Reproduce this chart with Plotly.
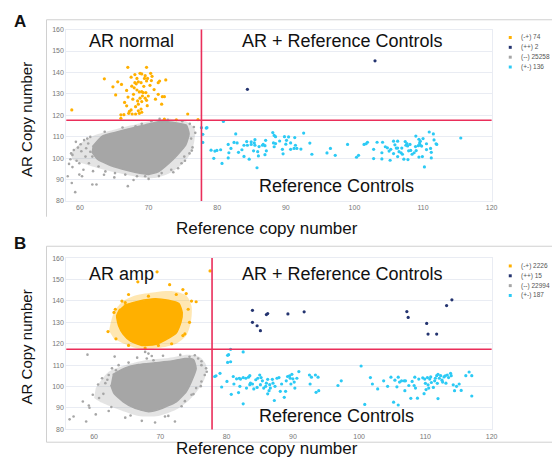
import plotly.graph_objects as go

W, H = 558, 459

# ---------------- data ----------------
x_ticks = [60, 70, 80, 90, 100, 110, 120]
y_ticks = [80, 90, 100, 110, 120, 130, 140, 150, 160]

A_x_cut, A_y_cut = 77.7, 117.7
B_x_cut, B_y_cut = 77.8, 117.4

legend_A = ["(-+) 74", "(++) 2", "(--) 25258", "(+-) 136"]
legend_B = ["(-+) 2226", "(++) 15", "(--) 22994", "(+-) 187"]

# Panel A : (--) dense cloud outline (core and sparse fringe) and outliers
A_gray_core_x = [61.8, 63.2, 65.1, 67.5, 69.5, 71.4, 72.8, 74.3, 75.5, 75.9, 75.4, 74.2, 72.9, 71.4, 70.0, 68.0, 66.1, 64.2, 62.5, 61.7]
A_gray_core_y = [105.3, 110.2, 112.0, 114.0, 115.5, 117.0, 117.0, 116.3, 115.4, 111.4, 106.0, 101.5, 97.4, 93.6, 92.4, 93.4, 94.9, 96.9, 99.6, 103.0]
A_gray_fringe_x = [58.65, 59.9, 61.8, 64.2, 67.5, 70.4, 73.3, 75.7, 76.7, 76.6, 75.96, 74.8, 73.1, 70.9, 68.5, 65.6, 62.7, 60.3, 58.9]
A_gray_fringe_y = [102.2, 106.5, 110.2, 112.6, 115.3, 117.5, 118.3, 116.8, 113.7, 106.8, 101.5, 96.9, 93.0, 90.7, 91.2, 93.0, 95.3, 97.6, 99.2]
A_gray_x = [58.2, 58.8, 59.3, 59.9, 60.3, 61.8, 62.4, 66.97, 58.4, 58.9, 59.1, 59.4, 60.1, 60.6, 61.06, 61.5, 68.1, 69.0, 70.4, 72.8, 76.0, 76.6, 76.2, 76.4, 75.96, 75.2, 74.8, 74.3, 73.3, 71.9, 70.0, 69.5, 68.3, 66.6, 65.1, 63.7, 62.7, 61.3, 59.9, 60.8, 61.5, 61.8, 58.7,
            58.6, 59.5, 60.2, 60.9, 59.7, 61.2, 58.9, 60.5, 61.9, 63.5, 65.0, 67.8, 71.5, 73.6, 75.3, 76.3, 76.8, 74.9, 71.6, 66.2, 63.6]
A_gray_y = [91.5, 88.4, 84.1, 92.3, 91.5, 87.7, 87.7, 86.9, 97.3, 101.5, 103.8, 107.6, 106.5, 108.4, 109.1, 109.9, 114.9, 116.0, 117.2, 117.9, 116.0, 114.5, 109.1, 105.0, 102.2, 100.7, 97.6, 95.3, 94.6, 93.0, 90.3, 91.5, 91.5, 92.3, 93.0, 93.8, 96.1, 97.6, 97.6, 100.7, 103.0, 100.7, 102.2,
            99.5, 98.8, 103.2, 104.6, 104.9, 106.8, 95.8, 94.6, 93.9, 92.2, 91.0, 89.8, 91.6, 93.4, 98.8, 103.5, 111.8, 117.2, 118.3, 114.3, 112.3]

A_orange_x = [69.7, 66.97, 68.75, 69.0, 70.3, 69.5, 70.5, 67.45, 63.55, 68.3, 69.4, 69.85, 69.7, 68.5, 68.0, 68.2, 65.5, 66.05, 68.9, 70.4, 71.6, 71.4, 64.8, 67.55, 66.8, 68.3, 69.0, 68.65, 69.2, 69.6, 65.2, 67.8, 69.95, 71.4, 72.0, 72.3, 69.1, 68.75, 69.5, 67.7, 68.4, 69.0, 69.7, 71.9, 66.8, 68.5, 68.1, 68.9, 67.45, 67.2, 68.5, 68.65, 58.8, 65.96, 66.4, 67.1, 67.6, 68.1, 65.96, 69.0, 75.7, 72.3, 74.04, 77.2, 69.3, 70.8, 67.9, 71.0, 66.5, 69.8, 67.0, 70.2, 68.0, 72.5]
A_orange_y = [142.4, 142.4, 139.6, 139.3, 139.6, 138.5, 138.2, 137.8, 137.0, 137.2, 137.2, 137.2, 136.0, 135.6, 135.2, 134.7, 135.6, 134.4, 135.2, 136.2, 136.0, 135.2, 133.3, 133.6, 131.6, 131.8, 131.0, 130.9, 130.6, 130.6, 129.5, 129.8, 129.0, 129.8, 128.7, 128.7, 129.0, 128.0, 128.0, 127.5, 126.7, 126.4, 127.0, 125.2, 124.4, 125.2, 124.0, 122.9, 122.5, 121.8, 122.1, 120.9, 122.5, 120.2, 120.3, 120.9, 120.6, 120.6, 118.6, 121.4, 120.6, 118.2, 117.9, 118.0, 133.5, 132.0, 132.8, 127.5, 126.0, 124.5, 128.5, 134.0, 139.0, 136.5]

A_navy_x = [84.4, 103.0]
A_navy_y = [132.1, 145.4]

A_blue_x = [77.7, 78.4, 78.5, 77.9, 77.9, 80.9, 82.7, 79.1, 79.66, 79.95, 80.5, 79.5, 80.7, 81.6, 81.7, 81.6, 82.45, 82.9, 83.1, 83.6, 83.9, 83.9, 84.3, 84.4, 84.66, 84.95, 84.95, 85.3, 85.4, 85.5, 85.5, 85.8, 85.9, 86.1, 86.6, 86.7, 86.96, 87.06, 87.16, 86.96, 88.1, 88.3, 88.5, 88.2, 88.5, 88.3, 89.1, 89.5, 89.8, 90.0, 90.1, 90.4, 90.7, 90.7, 91.3, 91.4, 91.2, 91.6, 92.2, 92.6, 93.8, 96.0, 97.2,
            99.0, 100.3, 100.6, 101.4, 101.7, 101.9, 102.8, 102.8, 103.3, 104.0, 104.1, 104.5, 104.8, 105.05, 105.2, 105.3, 105.7, 105.7, 105.9, 106.1, 106.3, 106.3, 106.3, 106.8, 106.9, 107.0, 107.2, 107.4, 107.5, 107.65, 107.75, 107.8, 107.9, 108.1, 108.2, 108.4, 108.7, 108.9, 108.95, 109.3, 109.4, 109.5, 109.6, 109.4, 109.6, 109.8, 109.9, 110.0, 110.2, 110.5, 110.9, 111.1, 111.2, 111.2, 111.5, 111.9, 112.0, 115.5,
            86.0, 89.6, 93.5, 96.5, 106.5, 109.0, 110.5, 111.6, 104.0, 82.0]
A_blue_y = [114.2, 114.0, 114.2, 111.1, 107.3, 117.1, 111.3, 103.7, 103.3, 103.6, 103.9, 99.9, 97.5, 106.4, 102.5, 100.1, 107.3, 107.1, 102.7, 103.9, 106.0, 100.8, 107.7, 106.0, 99.5, 107.6, 106.4, 103.4, 107.1, 108.6, 106.0, 95.5, 103.0, 105.4, 106.0, 106.4, 105.8, 108.3, 103.4, 101.6, 111.9, 110.6, 110.0, 107.1, 106.8, 105.3, 108.0, 104.1, 110.0, 106.5, 108.3, 109.9, 107.1, 104.1, 109.6, 106.0, 104.5, 104.5, 104.2, 111.7, 101.8, 102.4, 101.3,
            106.4, 100.4, 101.3, 106.4, 106.7, 107.4, 104.1, 99.8, 107.4, 99.6, 107.4, 105.3, 104.8, 103.3, 99.0, 104.1, 107.9, 102.1, 106.2, 104.7, 107.9, 104.7, 100.7, 102.5, 104.7, 101.8, 99.5, 107.7, 106.0, 106.8, 105.7, 99.3, 103.4, 106.4, 103.6, 101.8, 102.5, 105.4, 110.3, 105.8, 108.8, 107.0, 107.9, 100.5, 106.0, 105.6, 100.7, 109.1, 95.9, 106.7, 112.2, 104.5, 102.7, 100.1, 111.3, 106.7, 106.4, 109.4,
            101.0, 102.0, 107.0, 104.5, 103.0, 103.5, 104.0, 108.5, 102.5, 104.5]

# Panel B
B_orange_core_x = [64.5, 66.72, 69.2, 71.2, 72.8, 73.3, 73.1, 72.4, 70.8, 69.2, 67.2, 65.5, 64.4, 63.7, 63.4, 63.9]
B_orange_core_y = [138.0, 139.9, 141.0, 140.3, 138.8, 134.6, 129.96, 125.0, 121.8, 119.6, 119.2, 121.2, 124.4, 128.4, 133.0, 136.3]
B_orange_fringe_x = [62.24, 62.99, 64.23, 66.2, 69.2, 71.9, 73.9, 74.7, 74.6, 73.9, 72.4, 69.7, 66.7, 64.5, 63.0]
B_orange_fringe_y = [126.1, 134.6, 139.5, 142.5, 144.1, 144.5, 142.5, 137.6, 130.0, 123.8, 120.0, 118.0, 117.7, 120.0, 122.3]
B_orange_x = [66.6, 69.5, 77.5, 68.2, 63.0, 62.1, 63.3, 74.4, 74.7, 75.4, 73.9, 73.4, 72.4, 71.4, 64.7, 63.2, 65.2, 67.7, 69.7, 71.7, 73.7, 74.2, 65.2, 64.2, 73.4]
B_orange_y = [148.9, 153.6, 154.0, 142.2, 134.6, 125.7, 122.3, 130.0, 139.9, 139.6, 143.4, 145.3, 143.0, 147.6, 139.2, 136.1, 119.2, 118.0, 119.2, 120.0, 124.6, 136.1, 143.0, 139.9, 123.8]

B_gray_core_x = [62.8, 64.7, 66.7, 69.2, 71.7, 73.7, 75.0, 75.4, 74.9, 73.9, 72.4, 70.2, 68.2, 66.2, 64.4, 63.0, 62.5]
B_gray_core_y = [105.6, 108.7, 110.3, 111.1, 111.9, 113.1, 112.6, 108.5, 103.9, 97.6, 92.9, 89.8, 88.3, 89.8, 92.9, 96.8, 100.8]
B_gray_fringe_x = [60.25, 62.24, 64.7, 67.7, 71.2, 74.2, 75.9, 76.9, 76.7, 75.7, 74.4, 72.4, 69.7, 66.7, 63.7, 61.2, 60.0]
B_gray_fringe_y = [99.3, 107.0, 110.0, 112.3, 113.4, 114.9, 113.9, 110.0, 103.9, 98.5, 93.9, 89.3, 86.3, 86.3, 89.3, 92.4, 94.7]
B_gray_x = [56.3, 56.9, 58.8, 59.8, 59.0, 63.1, 67.7, 68.2, 68.7, 67.95, 68.96, 61.7, 60.75, 59.3, 60.25, 62.2, 64.7, 67.2, 69.2, 72.2, 71.2, 75.7, 76.2, 76.9, 76.7, 76.2, 75.4, 74.7, 73.7, 62.2, 61.2, 62.7, 63.7, 75.2, 74.4,
            58.3, 59.2, 61.4, 60.6, 62.0, 63.3, 65.2, 66.5, 70.4, 73.0, 76.2, 77.0, 76.1, 75.0, 73.2, 70.7, 65.5, 62.6]
B_gray_y = [84.7, 86.0, 83.7, 96.2, 114.9, 114.0, 116.2, 115.4, 114.3, 113.1, 112.3, 101.6, 94.7, 90.1, 87.0, 88.6, 85.5, 84.0, 83.2, 83.7, 86.3, 113.1, 110.0, 108.5, 105.4, 102.4, 99.3, 96.2, 93.2, 105.4, 103.9, 108.5, 110.0, 114.6, 113.9,
            93.0, 91.2, 96.6, 101.0, 103.2, 107.6, 111.2, 113.5, 114.4, 114.8, 111.8, 106.9, 100.2, 96.5, 90.8, 86.0, 86.5, 90.5]

B_navy_x = [83.9, 83.9, 84.6, 85.1, 86.0, 86.2, 89.25, 91.7, 107.2, 107.4, 110.2, 110.4, 111.7, 113.2, 114.0]
B_navy_y = [135.6, 130.0, 128.4, 126.1, 133.6, 134.1, 133.9, 134.9, 135.0, 132.3, 129.5, 124.5, 124.5, 137.8, 140.5]

B_blue_x = [80.6, 80.3, 80.15, 82.5, 80.15, 80.6, 78.2, 78.4, 79.0, 79.25, 80.05, 80.7, 81.0, 81.1, 81.5, 81.9, 82.1, 81.8, 82.0, 82.5, 82.5, 82.9, 83.0, 83.3, 83.5, 83.5, 83.6, 83.9, 84.1, 84.4, 84.6, 84.7, 85.0, 85.1, 85.2, 85.4, 85.6, 85.9, 86.0, 86.2, 86.4, 86.2, 86.5, 86.6, 86.9, 87.0, 87.2, 87.3, 87.6, 87.9, 88.1, 88.3, 88.7, 88.9, 89.0, 89.2, 89.5, 89.6, 89.85, 89.7, 90.0, 90.2, 90.3, 90.6, 90.9, 92.5, 92.8, 92.6, 93.4, 93.8, 93.5, 93.9, 96.8, 97.3,
            100.3, 100.85, 101.7, 102.0, 102.8, 103.7, 104.3, 104.8, 105.2, 105.4, 105.7, 105.9, 106.1, 105.9, 106.4, 106.8, 107.0, 106.9, 107.5, 107.8, 108.0, 108.3, 108.4, 108.5, 108.8, 109.0, 109.6, 109.8, 109.9, 110.0, 110.1, 110.3, 110.4, 110.5, 110.65, 110.8, 110.9, 111.2, 111.4, 111.5, 111.7, 111.8, 111.9, 111.9, 112.1, 112.3, 112.5, 112.6, 112.8, 113.0, 113.1, 113.3, 113.5, 113.8, 113.9, 114.2, 114.4, 114.7, 115.1, 115.4, 116.1, 116.6, 117.0, 117.0]
B_blue_y = [117.4, 114.9, 114.6, 116.2, 111.3, 111.6, 104.7, 105.0, 106.2, 99.8, 102.4, 96.4, 104.7, 101.2, 103.6, 103.9, 103.5, 97.2, 100.1, 104.2, 91.96, 103.9, 99.3, 104.4, 100.9, 105.1, 101.6, 101.2, 98.9, 103.2, 99.6, 103.9, 105.4, 100.9, 104.2, 102.7, 99.3, 100.1, 101.6, 103.4, 98.1, 96.6, 100.9, 99.3, 103.4, 101.6, 93.5, 100.1, 103.9, 104.2, 97.8, 101.2, 95.0, 97.8, 102.7, 104.7, 105.0, 103.9, 105.7, 101.2, 103.6, 102.1, 99.3, 103.9, 107.0, 105.4, 104.4, 101.2, 105.4, 104.4, 97.3, 98.1, 100.5, 102.7,
            109.6, 91.65, 104.2, 101.2, 98.9, 102.7, 100.1, 104.4, 92.7, 103.0, 99.9, 104.4, 102.1, 91.4, 102.7, 102.7, 102.7, 98.1, 100.5, 94.5, 102.4, 100.5, 104.4, 99.3, 94.6, 103.5, 104.1, 96.7, 103.5, 101.5, 98.6, 104.2, 100.8, 99.3, 103.5, 104.5, 101.9, 99.6, 102.7, 103.9, 105.1, 101.5, 105.7, 94.4, 103.9, 105.1, 103.0, 102.1, 104.5, 105.0, 101.6, 105.4, 104.2, 106.2, 105.1, 100.8, 98.1, 100.1, 101.2, 98.2, 105.1, 106.8, 105.1, 95.6]

# ---------------- style ----------------
ORANGE = "#ffb000"
NAVY = "#243470"
GRAY = "#a6a6a6"
BLUE = "#2ccaf5"
RED = "#ea2e5a"
GRID = "#e9ecf3"
FONT = "Liberation Sans"
legend_colors = [ORANGE, NAVY, GRAY, BLUE]
FRINGE_FILL = {GRAY: "rgba(166,166,166,0.3)", ORANGE: "rgba(255,176,0,0.3)"}


def px_x(p):
    return p / W


def px_y(p):
    return 1 - p / H


fig = go.Figure()


def cloud(xs, ys, color, xa, ya, fringe=False):
    if fringe:
        fig.add_trace(go.Scatter(x=xs, y=ys, mode="lines", fill="toself",
                                 line=dict(width=0, color=color, shape="spline", smoothing=0.8),
                                 fillcolor=FRINGE_FILL[color],
                                 xaxis=xa, yaxis=ya, showlegend=False, hoverinfo="skip"))
    else:
        fig.add_trace(go.Scatter(x=xs, y=ys, mode="lines", fill="toself",
                                 line=dict(width=1.5, color=color, shape="spline", smoothing=0.5),
                                 fillcolor=color,
                                 xaxis=xa, yaxis=ya, showlegend=False, hoverinfo="skip"))


def pts(xs, ys, color, xa, ya, size=3.2):
    fig.add_trace(go.Scatter(x=xs, y=ys, mode="markers",
                             marker=dict(color=color, size=size, line=dict(width=0)),
                             xaxis=xa, yaxis=ya, showlegend=False))


# Panel A
cloud(A_gray_fringe_x, A_gray_fringe_y, GRAY, "x", "y", fringe=True)
cloud(A_gray_core_x, A_gray_core_y, GRAY, "x", "y")
pts(A_gray_x, A_gray_y, GRAY, "x", "y", 2.6)
pts(A_orange_x, A_orange_y, ORANGE, "x", "y")
pts(A_navy_x, A_navy_y, NAVY, "x", "y")
pts(A_blue_x, A_blue_y, BLUE, "x", "y")

# Panel B
cloud(B_gray_fringe_x, B_gray_fringe_y, GRAY, "x2", "y2", fringe=True)
cloud(B_gray_core_x, B_gray_core_y, GRAY, "x2", "y2")
pts(B_gray_x, B_gray_y, GRAY, "x2", "y2", 2.6)
cloud(B_orange_fringe_x, B_orange_fringe_y, ORANGE, "x2", "y2", fringe=True)
cloud(B_orange_core_x, B_orange_core_y, ORANGE, "x2", "y2")
pts(B_orange_x, B_orange_y, ORANGE, "x2", "y2")
pts(B_navy_x, B_navy_y, NAVY, "x2", "y2")
pts(B_blue_x, B_blue_y, BLUE, "x2", "y2")

xdom = [px_x(67), px_x(497)]
axis_common = dict(showline=True, mirror=True, linecolor=GRID, linewidth=1,
                   ticks="", tickfont=dict(family=FONT, size=7, color="#777"),
                   zeroline=False)

fig.update_layout(
    width=W, height=H, margin=dict(l=0, r=0, t=0, b=0),
    paper_bgcolor="white", plot_bgcolor="white", showlegend=False,
    font=dict(family=FONT),
    xaxis=dict(domain=xdom, range=[58, 120], tickvals=x_ticks, showgrid=False,
               anchor="y", **axis_common),
    yaxis=dict(domain=[px_y(200), px_y(26)], range=[80, 160], tickvals=y_ticks,
               showgrid=True, gridcolor=GRID, gridwidth=1, anchor="x", **axis_common),
    xaxis2=dict(domain=xdom, range=[55.8, 120], tickvals=x_ticks, showgrid=False,
                anchor="y2", **axis_common),
    yaxis2=dict(domain=[px_y(432), px_y(258)], range=[80, 160], tickvals=y_ticks,
                showgrid=True, gridcolor=GRID, gridwidth=1, anchor="x2", **axis_common),
)

shapes = []
# threshold lines
for xa, ya, xc, yc in [("x", "y", A_x_cut, A_y_cut), ("x2", "y2", B_x_cut, B_y_cut)]:
    shapes.append(dict(type="line", xref=xa, yref=ya + " domain", x0=xc, x1=xc, y0=0, y1=1,
                       line=dict(color=RED, width=1.6), layer="above"))
    shapes.append(dict(type="line", xref=xa + " domain", yref=ya, x0=0, x1=1, y0=yc, y1=yc,
                       line=dict(color=RED, width=1.6), layer="above"))
# panel frames
BORDER = "#d0d0d0"
shapes += [
    dict(type="line", xref="paper", yref="paper", x0=px_x(47), x1=1, y0=px_y(16), y1=px_y(16), line=dict(color=BORDER, width=1)),
    dict(type="line", xref="paper", yref="paper", x0=px_x(47), x1=px_x(47), y0=px_y(16), y1=px_y(216), line=dict(color=BORDER, width=1)),
    dict(type="line", xref="paper", yref="paper", x0=px_x(47), x1=1, y0=px_y(246), y1=px_y(246), line=dict(color=BORDER, width=1)),
    dict(type="line", xref="paper", yref="paper", x0=px_x(47), x1=px_x(47), y0=px_y(246), y1=px_y(445), line=dict(color=BORDER, width=1)),
    dict(type="line", xref="paper", yref="paper", x0=px_x(47), x1=1, y0=px_y(445), y1=px_y(445), line=dict(color=BORDER, width=1)),
]

annotations = []
# custom legends
for labels, top in [(legend_A, 34), (legend_B, 266)]:
    for i, (lab, col) in enumerate(zip(labels, legend_colors)):
        yc = top + 10 * i
        shapes.append(dict(type="rect", xref="paper", yref="paper",
                           x0=px_x(514.3), x1=px_x(517.3), y0=px_y(yc - 1.5), y1=px_y(yc + 1.5),
                           fillcolor=col, line=dict(width=0)))
        annotations.append(dict(text=lab, x=px_x(525), y=px_y(yc), xref="paper", yref="paper",
                                xanchor="left", yanchor="middle", showarrow=False,
                                font=dict(family=FONT, size=6.5, color="#555")))


def text(t, x, y, size, **kw):
    annotations.append(dict(text=t, x=px_x(x), y=px_y(y), xref="paper", yref="paper",
                            showarrow=False, font=dict(family=FONT, size=size, color="#111"), **kw))


text("AR normal", 88, 38, 18, xanchor="left", yanchor="middle")
text("AR + Reference Controls", 243, 38, 18, xanchor="left", yanchor="middle")
text("Reference Controls", 260, 185, 18, xanchor="left", yanchor="middle")
text("AR amp", 88, 274, 18, xanchor="left", yanchor="middle")
text("AR + Reference Controls", 243, 274, 18, xanchor="left", yanchor="middle")
text("Reference Controls", 260, 418, 18, xanchor="left", yanchor="middle")
text("Reference copy number", 270, 228, 17, xanchor="center", yanchor="middle")
text("Reference copy number", 270, 451, 17, xanchor="center", yanchor="middle")
text("AR Copy number", 27, 117, 15, xanchor="center", yanchor="middle", textangle=-90)
text("AR Copy number", 27, 348, 15, xanchor="center", yanchor="middle", textangle=-90)
text("<b>A</b>", 20, 18, 17, xanchor="center", yanchor="middle")
text("<b>B</b>", 20, 243, 17, xanchor="center", yanchor="middle")

fig.update_layout(shapes=shapes, annotations=annotations)
fig.write_html("out.html", config={"displayModeBar": False},
               post_script="document.body.style.margin='0';document.body.style.overflow='hidden';")
